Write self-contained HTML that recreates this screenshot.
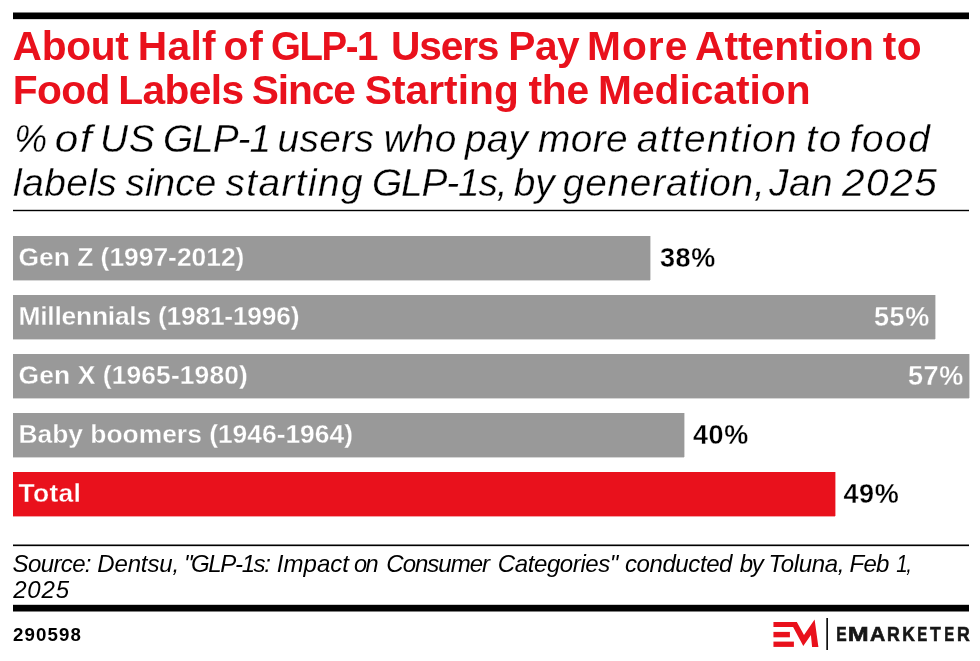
<!DOCTYPE html>
<html><head><meta charset="utf-8">
<style>
html,body{margin:0;padding:0;background:#fff;}
body{width:980px;height:661px;position:relative;overflow:hidden;font-family:"Liberation Sans",sans-serif;}
.abs{position:absolute;}
.wrap{position:absolute;left:0;top:0;width:980px;height:661px;will-change:transform;}
.rule{position:absolute;background:#000;}
.t{position:absolute;color:#e9111c;font-weight:bold;font-size:40.7px;line-height:44.5px;white-space:nowrap;}
.s{position:absolute;color:#000;font-style:italic;font-size:38.8px;line-height:44.1px;white-space:nowrap;-webkit-text-stroke:0.3px #fff;}
.bar{position:absolute;left:13px;height:44px;background:#999;box-shadow:1px 0 0 rgba(153,153,153,.4),0 1px 0 rgba(153,153,153,.4);}
.lbl{position:absolute;left:18.5px;color:#fff;font-weight:bold;font-size:26.4px;line-height:44px;white-space:nowrap;-webkit-text-stroke:0.3px #999;}
.val{position:absolute;font-weight:bold;font-size:27px;line-height:44px;white-space:nowrap;color:#000;letter-spacing:0.6px;-webkit-text-stroke:0.3px #fff;}
.vw{color:#fff;-webkit-text-stroke-color:#999;}
.src{position:absolute;font-style:italic;font-size:24px;line-height:26px;color:#000;white-space:nowrap;}
.id{position:absolute;left:13px;top:622.8px;font-weight:bold;font-size:18.7px;line-height:24px;color:#000;letter-spacing:1.1px;}
.em{position:absolute;top:621.8px;font-weight:bold;font-size:20.2px;line-height:24px;color:#161616;-webkit-text-stroke:0.6px #161616;}
</style></head><body><div class="wrap">
<div class="rule" style="left:13px;top:13px;width:956px;height:6px;box-shadow:0 -1px 0 rgba(0,0,0,.5),0 1px 0 rgba(0,0,0,.15);"></div>
<div class="t" style="top:23.5px;left:12.60px;letter-spacing:-0.30px;">About</div>
<div class="t" style="top:23.5px;left:137.70px;letter-spacing:0.37px;">Half</div>
<div class="t" style="top:23.5px;left:223.60px;letter-spacing:0.70px;">of</div>
<div class="t" style="top:23.5px;left:270.90px;letter-spacing:-1.50px;transform:scaleX(0.9432);transform-origin:2.0px 0;">GLP-1</div>
<div class="t" style="top:23.5px;left:391.00px;letter-spacing:-1.17px;">Users</div>
<div class="t" style="top:23.5px;left:508.20px;letter-spacing:-0.45px;">Pay</div>
<div class="t" style="top:23.5px;left:586.90px;letter-spacing:1.10px;">More</div>
<div class="t" style="top:23.5px;left:695.00px;letter-spacing:0.03px;">Attention</div>
<div class="t" style="top:23.5px;left:882.70px;letter-spacing:0.50px;">to</div>
<div class="t" style="top:68.0px;left:12.70px;letter-spacing:-0.57px;">Food</div>
<div class="t" style="top:68.0px;left:118.20px;letter-spacing:-0.58px;">Labels</div>
<div class="t" style="top:68.0px;left:251.80px;letter-spacing:-1.10px;">Since</div>
<div class="t" style="top:68.0px;left:364.70px;letter-spacing:0.06px;">Starting</div>
<div class="t" style="top:68.0px;left:528.40px;letter-spacing:-0.20px;">the</div>
<div class="t" style="top:68.0px;left:598.00px;letter-spacing:0.01px;">Medication</div>
<div class="s" style="top:117.2px;left:13.50px;letter-spacing:0.00px;transform:scaleX(0.9533);transform-origin:3.0px 0;">%</div>
<div class="s" style="top:117.2px;left:55.30px;letter-spacing:1.50px;transform:scaleX(1.0899);transform-origin:2.0px 0;">of</div>
<div class="s" style="top:117.2px;left:100.00px;letter-spacing:0.70px;">US</div>
<div class="s" style="top:117.2px;left:162.90px;letter-spacing:-1.00px;">GLP-1</div>
<div class="s" style="top:117.2px;left:277.50px;letter-spacing:0.38px;">users</div>
<div class="s" style="top:117.2px;left:383.70px;letter-spacing:0.70px;">who</div>
<div class="s" style="top:117.2px;left:464.90px;letter-spacing:0.25px;">pay</div>
<div class="s" style="top:117.2px;left:538.00px;letter-spacing:0.43px;">more</div>
<div class="s" style="top:117.2px;left:636.80px;letter-spacing:1.36px;">attention</div>
<div class="s" style="top:117.2px;left:805.80px;letter-spacing:1.50px;transform:scaleX(1.0426);transform-origin:2.0px 0;">to</div>
<div class="s" style="top:117.2px;left:849.80px;letter-spacing:1.47px;">food</div>
<div class="s" style="top:161.4px;left:13.10px;letter-spacing:0.44px;">labels</div>
<div class="s" style="top:161.4px;left:125.50px;letter-spacing:0.05px;">since</div>
<div class="s" style="top:161.4px;left:225.50px;letter-spacing:1.39px;">starting</div>
<div class="s" style="top:161.4px;left:372.00px;letter-spacing:-1.15px;">GLP-1s,</div>
<div class="s" style="top:161.4px;left:513.80px;letter-spacing:-0.20px;">by</div>
<div class="s" style="top:161.4px;left:562.80px;letter-spacing:0.78px;">generation,</div>
<div class="s" style="top:161.4px;left:769.10px;letter-spacing:0.50px;">Jan</div>
<div class="s" style="top:161.4px;left:842.10px;letter-spacing:1.50px;transform:scaleX(1.0453);transform-origin:0.0px 0;">2025</div>
<div class="rule" style="left:13px;top:210px;width:956px;height:1px;box-shadow:0 -1px 0 rgba(0,0,0,.2),0 1px 0 rgba(0,0,0,.2);"></div>

<div class="bar" style="top:236px;width:637px;"></div>
<div class="lbl" style="top:235px;">Gen Z (1997-2012)</div>
<div class="val" style="top:235.5px;left:660px;">38%</div>

<div class="bar" style="top:295px;width:922px;"></div>
<div class="lbl" style="top:294px;letter-spacing:-0.23px;">Millennials (1981-1996)</div>
<div class="val vw" style="top:294.5px;left:874px;">55%</div>

<div class="bar" style="top:354px;width:956px;"></div>
<div class="lbl" style="top:353px;letter-spacing:0.12px;">Gen X (1965-1980)</div>
<div class="val vw" style="top:353.5px;left:908px;">57%</div>

<div class="bar" style="top:413px;width:671px;"></div>
<div class="lbl" style="top:412px;">Baby boomers (1946-1964)</div>
<div class="val" style="top:412.5px;left:693px;">40%</div>

<div class="bar" style="top:472px;width:822px;background:#e9111c;box-shadow:1px 0 0 rgba(233,17,28,.4),0 1px 0 rgba(233,17,28,.4);"></div>
<div class="lbl" style="top:471px;letter-spacing:0.3px;-webkit-text-stroke-color:#e9111c;">Total</div>
<div class="val" style="top:471.5px;left:843.5px;">49%</div>

<div class="rule" style="left:13px;top:545px;width:956px;height:1px;box-shadow:0 -1px 0 rgba(0,0,0,.5),0 1px 0 rgba(0,0,0,.15);"></div>
<div class="src" style="top:550.5px;left:12.60px;letter-spacing:-0.63px;">Source:</div>
<div class="src" style="top:550.5px;left:97.20px;letter-spacing:-0.12px;">Dentsu,</div>
<div class="src" style="top:550.5px;left:183.90px;letter-spacing:-1.36px;">"GLP-1s:</div>
<div class="src" style="top:550.5px;left:276.80px;letter-spacing:0.04px;">Impact</div>
<div class="src" style="top:550.5px;left:354.00px;letter-spacing:-1.50px;transform:scaleX(0.9787);transform-origin:1.0px 0;">on</div>
<div class="src" style="top:550.5px;left:386.30px;letter-spacing:-0.99px;">Consumer</div>
<div class="src" style="top:550.5px;left:497.80px;letter-spacing:-0.40px;">Categories"</div>
<div class="src" style="top:550.5px;left:624.90px;letter-spacing:-0.40px;">conducted</div>
<div class="src" style="top:550.5px;left:739.80px;letter-spacing:-1.50px;">by</div>
<div class="src" style="top:550.5px;left:768.60px;letter-spacing:-0.33px;">Toluna,</div>
<div class="src" style="top:550.5px;left:849.60px;letter-spacing:-0.80px;">Feb</div>
<div class="src" style="top:550.5px;left:895.62px;letter-spacing:-1.50px;transform:scaleX(0.8600);transform-origin:1.0px 0;">1,</div>
<div class="src" style="top:577.0px;left:13.20px;letter-spacing:0.83px;">2025</div>
<div class="rule" style="left:13px;top:605px;width:956px;height:6px;box-shadow:0 -1px 0 rgba(0,0,0,.2),0 1px 0 rgba(0,0,0,.5);"></div>
<div class="id">290598</div>
<svg class="abs" style="left:0;top:0;" width="980" height="661" viewBox="0 0 980 661">
<polygon fill="#e9111c" points="773.45,621.9 796.84,621.9 804.0,634.9 814.6,619.5 818.4,646.9 812.1,646.9 810.9,635.0 803.3,646.0 793.1,626.9 773.45,626.9"/>
<rect fill="#e9111c" x="773.45" y="631.9" width="16.45" height="5.4"/>
<rect fill="#e9111c" x="773.45" y="641.6" width="20.45" height="5.3"/>
<rect fill="#111" x="826.3" y="618" width="1.7" height="32"/>
</svg>
<div class="em" style="left:835.50px;transform:scaleX(0.7750);transform-origin:1px 0;">E</div>
<div class="em" style="left:848.00px;transform:scaleX(1.2400);transform-origin:1px 0;">M</div>
<div class="em" style="left:870.00px;transform:scaleX(1.0500);transform-origin:0px 0;">A</div>
<div class="em" style="left:886.90px;transform:scaleX(0.8769);transform-origin:1px 0;">R</div>
<div class="em" style="left:901.90px;transform:scaleX(0.8643);transform-origin:1px 0;">K</div>
<div class="em" style="left:917.20px;transform:scaleX(0.7417);transform-origin:1px 0;">E</div>
<div class="em" style="left:930.00px;transform:scaleX(0.8769);transform-origin:0px 0;">T</div>
<div class="em" style="left:944.00px;transform:scaleX(0.7417);transform-origin:1px 0;">E</div>
<div class="em" style="left:957.20px;transform:scaleX(0.8769);transform-origin:1px 0;">R</div>
</div></body></html>
